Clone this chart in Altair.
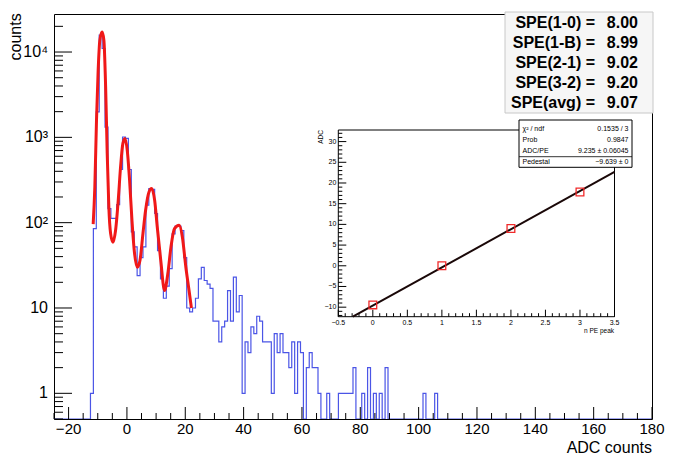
import altair as alt
import pandas as pd

FONT = "Liberation Sans"
W, H = 598, 405
BLUE = "#4b55e6"
RED = "#f01818"

# ---------------- main histogram: 1 ADC count per bin, bins centred on integers ----------------
bin_centers = list(range(-12, 107))
counts = [1, 85, 1990, 15800, 11000, 1320, 146, 112, 112, 163,   # -12..-3
          420, 1010, 970, 420, 78, 52, 24, 39, 52, 160,           # -2..7
          250, 245, 128, 47, 22, 13, 18, 29, 74, 91,              # 8..17
          91, 81, 39, 10, 9, 10, 13, 22, 30, 21,                  # 18..27
          19, 17, 7, 7, 4, 6, 7, 16, 7, 23,                       # 28..37
          9, 14, 1, 4, 3, 6, 5, 8, 7, 4,                          # 38..47
          4, 4, 1, 5, 3, 5, 3, 3, 2, 4,                           # 48..57
          1, 4, 3, 0, 2, 3, 2, 2, 1, 0,                           # 58..67
          0, 1, 0, 0, 0, 1, 1, 1, 1, 1,                           # 68..77
          2, 0, 0, 1, 0, 2, 0, 1, 0, 1,                           # 78..87
          0, 2, 0, 0, 0, 0, 0, 0, 0, 0,                           # 88..97
          0, 0, 0, 0, 1, 0, 0, 0, 1]                              # 98..106
hist_range = [-25, 180]

# ---------------- red multi-peak fit curve ----------------
fit_adc = [-11.57, -11.0, -10.43, -9.86, -9.28, -8.5, -7.9, -7.3, -6.76, -6.2,
           -5.6, -4.8, -3.9, -2.98, -2.18, -1.38, -0.69, 0.11, 0.91, 1.72,
           2.63, 3.55, 4.47, 5.5, 6.4, 7.57, 8.48, 9.5, 10.4, 11.6,
           12.9, 14.0, 15.1, 16.3, 17.9, 19.0, 20.2, 21.3, 22.1]
fit_counts = [96, 263, 1585, 6130, 13800, 17200, 13800, 3900, 646, 152,
              75, 59, 81, 183, 450, 850, 970, 705, 315, 107,
              43, 30, 36, 75, 140, 229, 251, 183, 89, 36,
              16, 25, 52, 85, 93, 68, 30, 16, 10]

# ---------------- SPE summary ----------------
spe_labels = ["SPE(1-0) =", "SPE(1-B) =", "SPE(2-1) =", "SPE(3-2) =", "SPE(avg) ="]
spe_values = ["8.00", "8.99", "9.02", "9.20", "9.07"]

# ---------------- inset: peak position vs n PE ----------------
npe = [0, 1, 2, 3]
peak_adc = [-9.45, 0.0, 9.0, 17.8]
line_npe = [-0.29, 3.5]
line_adc = [-12.3, 22.68]
stat_names = ["\u03c7\u00b2 / ndf", "Prob", "ADC/PE", "Pedestal"]
stat_values = ["0.1535 / 3", "0.9847", "9.235 \u00b1 0.06045", "\u22129.639 \u00b1 0"]

# ---------------- ticks and tick labels ----------------
x_major = list(range(-20, 181, 20))
x_tick_labels = ["\u221220", "0", "20", "40", "60", "80", "100", "120", "140", "160", "180"]
x_minor = [v for v in range(-25, 181, 5) if v % 20 != 0]
y_major = [1, 10, 100, 1000, 10000]
y_tick_labels = ["1", "10", "10\u00b2", "10\u00b3", "10\u2074"]
y_minor = [0.5, 0.6, 0.7, 0.8, 0.9] + [m * 10 ** k for k in range(0, 5) for m in range(2, 10) if m * 10 ** k <= 27900]
in_x_major = [-0.5, 0, 0.5, 1, 1.5, 2, 2.5, 3, 3.5]
in_x_labels = ["\u22120.5", "0", "0.5", "1", "1.5", "2", "2.5", "3", "3.5"]
in_x_minor = [round(-0.5 + 0.1 * i, 2) for i in range(41) if i % 5 != 0]
in_y_major = [-10, -5, 0, 5, 10, 15, 20, 25, 30]
in_y_labels = ["\u221210", "\u22125", "0", "5", "10", "15", "20", "25", "30"]
in_y_minor = [v for v in range(-12, 33) if v % 5 != 0]

# ---------------- build tables ----------------
step_x = [float(hist_range[0])] + [c - 0.5 for c in bin_centers] + [bin_centers[-1] + 0.5, float(hist_range[1])]
step_n = [0] + counts + [0, 0]
hist_df = pd.DataFrame({"adc": step_x, "n": step_n})
fit_df = pd.DataFrame({"adc": fit_adc, "n": fit_counts})

xs_main = alt.Scale(domain=hist_range, nice=False, zero=False)
ys_main = alt.Scale(type="log", domain=[0.5, 27900], nice=False)

hist = alt.Chart(hist_df).transform_calculate(ny="max(datum.n, 0.5)").mark_line(
    interpolate="step-after", color=BLUE, strokeWidth=1.2, clip=True
).encode(x=alt.X("adc:Q", scale=xs_main, axis=None), y=alt.Y("ny:Q", scale=ys_main, axis=None))

fit = alt.Chart(fit_df).mark_line(interpolate="monotone", color=RED, strokeWidth=3, clip=True).encode(
    x=alt.X("adc:Q", scale=xs_main, axis=None), y=alt.Y("n:Q", scale=ys_main, axis=None))


def xticks(vals, scale, ybase, length):
    return alt.Chart(pd.DataFrame({"v": vals})).mark_rule(color="black", strokeWidth=1).encode(
        x=alt.X("v:Q", scale=scale, axis=None), y=alt.value(ybase), y2=alt.value(ybase - length))


def yticks(vals, scale, xbase, length):
    return alt.Chart(pd.DataFrame({"v": vals})).mark_rule(color="black", strokeWidth=1).encode(
        y=alt.Y("v:Q", scale=scale, axis=None), x=alt.value(xbase), x2=alt.value(xbase + length))


def xlabels(vals, labels, scale, ypix, size):
    return alt.Chart(pd.DataFrame({"v": vals, "t": labels})).mark_text(
        font=FONT, fontSize=size, align="center", baseline="top", color="black").encode(
        x=alt.X("v:Q", scale=scale, axis=None), y=alt.value(ypix), text="t:N")


def ylabels(vals, labels, scale, xpix, size):
    return alt.Chart(pd.DataFrame({"v": vals, "t": labels})).mark_text(
        font=FONT, fontSize=size, align="right", baseline="middle", color="black").encode(
        y=alt.Y("v:Q", scale=scale, axis=None), x=alt.value(xpix), text="t:N")


def ptext(txt, x, y, size, align="left", baseline="middle", bold=False, angle=0):
    return alt.Chart(pd.DataFrame({"t": [txt]})).mark_text(
        font=FONT, fontSize=size, align=align, baseline=baseline,
        fontWeight="bold" if bold else "normal", angle=angle, color="black"
    ).encode(x=alt.value(x), y=alt.value(y), text="t:N")


def prect(x0, y0, x1, y1, fill, stroke):
    return alt.Chart(pd.DataFrame({"k": [0]})).mark_rect(fill=fill, stroke=stroke, strokeWidth=1).encode(
        x=alt.value(x0), x2=alt.value(x1), y=alt.value(y0), y2=alt.value(y1))


main_layers = [hist, fit,
               xticks(x_major, xs_main, H, 12), xticks(x_minor, xs_main, H, 6),
               yticks(y_major, ys_main, 0, 18), yticks(y_minor, ys_main, 0, 9),
               xlabels(x_major, x_tick_labels, xs_main, H + 3, 15),
               ylabels(y_major, y_tick_labels, ys_main, -6, 16),
               ptext("counts", -33, -0.7, 16, align="right", baseline="alphabetic", angle=270),
               ptext("ADC counts", W, 439, 16, align="right", baseline="alphabetic"),
               prect(451, -2, 599, 99, "#f6f6f6", "#c8c8c8")]
for i, (lab, val) in enumerate(zip(spe_labels, spe_values)):
    yy = 9 + 20 * i
    main_layers.append(ptext(lab, 541, yy, 16, align="right", bold=True))
    main_layers.append(ptext(val, 584, yy, 16, align="right", bold=True))
main = alt.layer(*main_layers)

# ---------------- inset ----------------
IX0, IX1 = 284.3, 560.5
IY0, IY1 = 302.7, 116.0
in_dom_x = [-0.5, 3.5]
in_dom_y = [-12.3, 32.8]
xs_in = alt.Scale(domain=in_dom_x, range=[IX0, IX1], nice=False, zero=False)
ys_in = alt.Scale(domain=in_dom_y, range=[IY0, IY1], nice=False, zero=False)

frame_df = pd.DataFrame({"x0": [in_dom_x[0]], "x1": [in_dom_x[1]], "y0": [in_dom_y[0]], "y1": [in_dom_y[1]]})
frame = alt.Chart(frame_df).mark_rect(fill="white", stroke="black", strokeWidth=1).encode(
    x=alt.X("x0:Q", scale=xs_in, axis=None), x2="x1",
    y=alt.Y("y0:Q", scale=ys_in, axis=None), y2="y1")

fitline = alt.Chart(pd.DataFrame({"npe": line_npe, "adc": line_adc})).mark_line(
    color="#1a0808", strokeWidth=2).encode(
    x=alt.X("npe:Q", scale=xs_in, axis=None), y=alt.Y("adc:Q", scale=ys_in, axis=None))

pts = alt.Chart(pd.DataFrame({"npe": npe, "adc": peak_adc})).mark_point(
    shape="square", filled=False, color="#f02a2a", size=60, strokeWidth=1.3, opacity=1).encode(
    x=alt.X("npe:Q", scale=xs_in, axis=None), y=alt.Y("adc:Q", scale=ys_in, axis=None))

inset_layers = [frame,
                xticks(in_x_major, xs_in, IY0, 7), xticks(in_x_minor, xs_in, IY0, 3.5),
                yticks(in_y_major, ys_in, IX0, 8), yticks(in_y_minor, ys_in, IX0, 4),
                xlabels(in_x_major, in_x_labels, xs_in, IY0 + 2, 7),
                ylabels(in_y_major, in_y_labels, ys_in, IX0 - 2, 7),
                fitline, pts,
                ptext("ADC", 266.5, 116, 6.5, align="right", baseline="middle", angle=270),
                ptext("n PE peak", 560, 317, 6.5, align="right", baseline="middle"),
                prect(465, 106, 578, 153.3, "white", "black"),
                alt.Chart(pd.DataFrame({"k": [0]})).mark_rule(color="black", strokeWidth=0.8).encode(
                    x=alt.value(465), x2=alt.value(578), y=alt.value(142.7))]
stat_rows_y = [114.7, 126, 136.5, 148]
for name, val, yy in zip(stat_names, stat_values, stat_rows_y):
    inset_layers.append(ptext(name, 468.5, yy, 7, align="left"))
    inset_layers.append(ptext(val, 574.5, yy, 7, align="right"))
inset = alt.layer(*inset_layers)

chart = alt.layer(main, inset).resolve_scale(x="independent", y="independent").properties(
    width=W, height=H,
    autosize=alt.AutoSizeParams(type="none"),
    padding={"left": 46, "top": 6, "right": 30, "bottom": 40},
    background="white",
).configure_view(stroke="black", strokeWidth=1)

chart.save("out.html", embed_options={"renderer": "svg", "actions": False})
